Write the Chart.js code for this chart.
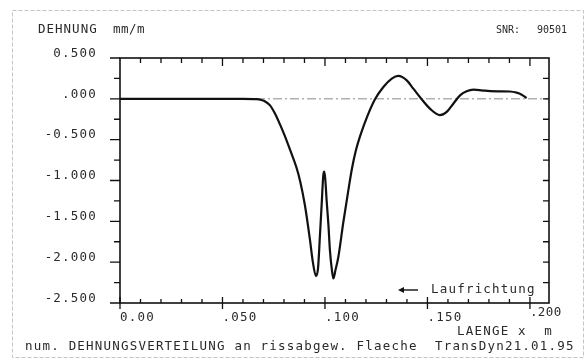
<!DOCTYPE html>
<html><head><meta charset="utf-8">
<script src="https://cdn.jsdelivr.net/npm/chart.js@4.4.1/dist/chart.umd.min.js"></script>
<style>html,body{margin:0;padding:0;background:#fff}canvas{display:block}</style>
</head><body>
<canvas id="c" width="586" height="361"></canvas>
<script>
// Länge x (m)
const xValues = [0, 0.02, 0.04, 0.06, 0.0665, 0.0690, 0.0710, 0.0732, 0.0756, 0.078, 0.0805, 0.0829, 0.0862, 0.0880, 0.0902, 0.0927, 0.0941, 0.0956, 0.0966, 0.0976, 0.0985, 0.0992, 0.0997, 0.1002, 0.1008, 0.1017, 0.1024, 0.1034, 0.1041, 0.1051, 0.1065, 0.1089, 0.1114, 0.1132, 0.1151, 0.1171, 0.1204, 0.1244, 0.1285, 0.1326, 0.1358, 0.1399, 0.1431, 0.1463, 0.1512, 0.1561, 0.1594, 0.1626, 0.1659, 0.1691, 0.1724, 0.1765, 0.1805, 0.1854, 0.1902, 0.1935, 0.1960, 0.1984];
// Dehnung (mm/m)
const strainValues = [0, 0, 0, 0, -0.004, -0.015, -0.035, -0.08, -0.18, -0.31, -0.46, -0.62, -0.85, -1.02, -1.30, -1.73, -2.0, -2.17, -2.08, -1.65, -1.24, -0.93, -0.89, -1.0, -1.24, -1.55, -1.85, -2.10, -2.20, -2.10, -1.94, -1.52, -1.12, -0.85, -0.63, -0.46, -0.23, -0.006, 0.145, 0.247, 0.28, 0.226, 0.125, 0.022, -0.12, -0.20, -0.16, -0.06, 0.043, 0.092, 0.112, 0.104, 0.094, 0.092, 0.090, 0.076, 0.051, 0.01];
const yTickValues = [0.5, 0, -0.5, -1, -1.5, -2, -2.5];
const yTickLabels = ['0.500', '.000', '-0.500', '-1.000', '-1.500', '-2.000', '-2.500'];
const xTickValues = [0, 0.05, 0.1, 0.15, 0.2];
const xTickLabels = ['0.00', '.050', '.100', '.150', '.200'];

const points = xValues.map((x, i) => ({x: x, y: strainValues[i]}));
const FONT = '"DejaVu Sans Mono", monospace';

function txt(ctx, s, x, y, align, size, spacing) {
  ctx.save();
  ctx.font = size + 'px ' + FONT;
  ctx.fillStyle = '#2a2a2a';
  ctx.textAlign = align;
  ctx.textBaseline = 'middle';
  try { ctx.letterSpacing = (spacing === undefined ? 1.2 : spacing) + 'px'; } catch (e) {}
  ctx.fillText(s, x, y);
  ctx.restore();
}

const decor = {
  id: 'decor',
  beforeDraw(chart) {
    const ctx = chart.ctx;
    ctx.save();
    ctx.fillStyle = '#fff';
    ctx.fillRect(0, 0, chart.width, chart.height);
    ctx.strokeStyle = '#c4c4c4';
    ctx.lineWidth = 1;
    ctx.setLineDash([4, 2]);
    ctx.strokeRect(12.5, 10.5, 571, 347);
    ctx.restore();
  },
  beforeDatasetsDraw(chart) {
    const ctx = chart.ctx, ys = chart.scales.y, a = chart.chartArea;
    const y0 = ys.getPixelForValue(0);
    ctx.save();
    ctx.strokeStyle = '#8a8a8a';
    ctx.lineWidth = 1;
    ctx.setLineDash([9, 3, 2, 3]);
    ctx.beginPath();
    ctx.moveTo(a.left, y0);
    ctx.lineTo(a.right, y0);
    ctx.stroke();
    ctx.restore();
  },
  afterDraw(chart) {
    const ctx = chart.ctx, xs = chart.scales.x, ys = chart.scales.y, a = chart.chartArea;
    ctx.save();
    ctx.strokeStyle = '#111';
    ctx.lineWidth = 1.6;
    ctx.strokeRect(a.left, a.top, a.right - a.left, a.bottom - a.top);
    ctx.lineWidth = 1.3;
    ctx.beginPath();
    for (let k = 0; k <= 12; k++) {
      const v = -2.5 + k * 0.25;
      const py = ys.getPixelForValue(v);
      const major = (k % 2 === 0);
      ctx.moveTo(a.left - (major ? 10 : 6), py);
      ctx.lineTo(a.left, py);
      if (k > 0 && k < 12) {
        ctx.moveTo(a.right - 6, py);
        ctx.lineTo(a.right, py);
      }
    }
    for (let k = 0; k <= 20; k++) {
      const v = k * 0.01;
      const px = xs.getPixelForValue(v);
      const major = (k % 5 === 0);
      if (k > 0) {
        ctx.moveTo(px, a.top);
        ctx.lineTo(px, a.top + (major ? 8 : 5));
      }
      if (major) {
        ctx.moveTo(px, a.bottom - 6);
        ctx.lineTo(px, a.bottom + 6);
      } else {
        ctx.moveTo(px, a.bottom - 4);
        ctx.lineTo(px, a.bottom);
      }
    }
    ctx.stroke();
    ctx.restore();

    yTickValues.forEach((v, i) => {
      txt(ctx, yTickLabels[i], 97, ys.getPixelForValue(v) - 4.5, 'right', 12.5);
    });
    xTickValues.forEach((v, i) => {
      const last = i === xTickValues.length - 1;
      txt(ctx, xTickLabels[i], xs.getPixelForValue(v), last ? 313 : 317.5, 'left', 12.5, last ? 0.4 : 1.2);
    });
    txt(ctx, 'LAENGE x  m', 457, 332, 'left', 12.5);
    txt(ctx, 'DEHNUNG', 38, 29.5, 'left', 12.5, 1);
    txt(ctx, 'mm/m', 113, 29.5, 'left', 12.5, 0.5);
    txt(ctx, 'SNR:', 496, 30, 'left', 10, 0);
    txt(ctx, '90501', 537, 30, 'left', 10, 0);
    txt(ctx, 'num. DEHNUNGSVERTEILUNG an rissabgew. Flaeche  TransDyn21.01.95', 25, 347, 'left', 12.5, 1.2);
    ctx.save();
    ctx.strokeStyle = '#111';
    ctx.fillStyle = '#111';
    ctx.lineWidth = 1.4;
    ctx.beginPath();
    ctx.moveTo(400, 290);
    ctx.lineTo(418, 290);
    ctx.stroke();
    ctx.beginPath();
    ctx.moveTo(398, 290);
    ctx.lineTo(404, 287);
    ctx.lineTo(404, 293);
    ctx.closePath();
    ctx.fill();
    ctx.restore();
    txt(ctx, 'Laufrichtung', 431, 290, 'left', 12.5, 1.2);
  }
};

new Chart(document.getElementById('c'), {
  type: 'scatter',
  data: {
    datasets: [{
      data: points,
      showLine: true,
      borderColor: '#111',
      borderWidth: 2.2,
      pointRadius: 0,
      cubicInterpolationMode: 'monotone',
      fill: false
    }]
  },
  options: {
    responsive: false,
    animation: false,
    devicePixelRatio: 1,
    layout: {padding: {left: 120, right: 37, top: 58, bottom: 58}},
    scales: {
      x: {type: 'linear', min: 0, max: 0.2093, display: false},
      y: {type: 'linear', min: -2.5, max: 0.5, display: false}
    },
    plugins: {legend: {display: false}, tooltip: {enabled: false}}
  },
  plugins: [decor]
});
</script>
</body></html>
